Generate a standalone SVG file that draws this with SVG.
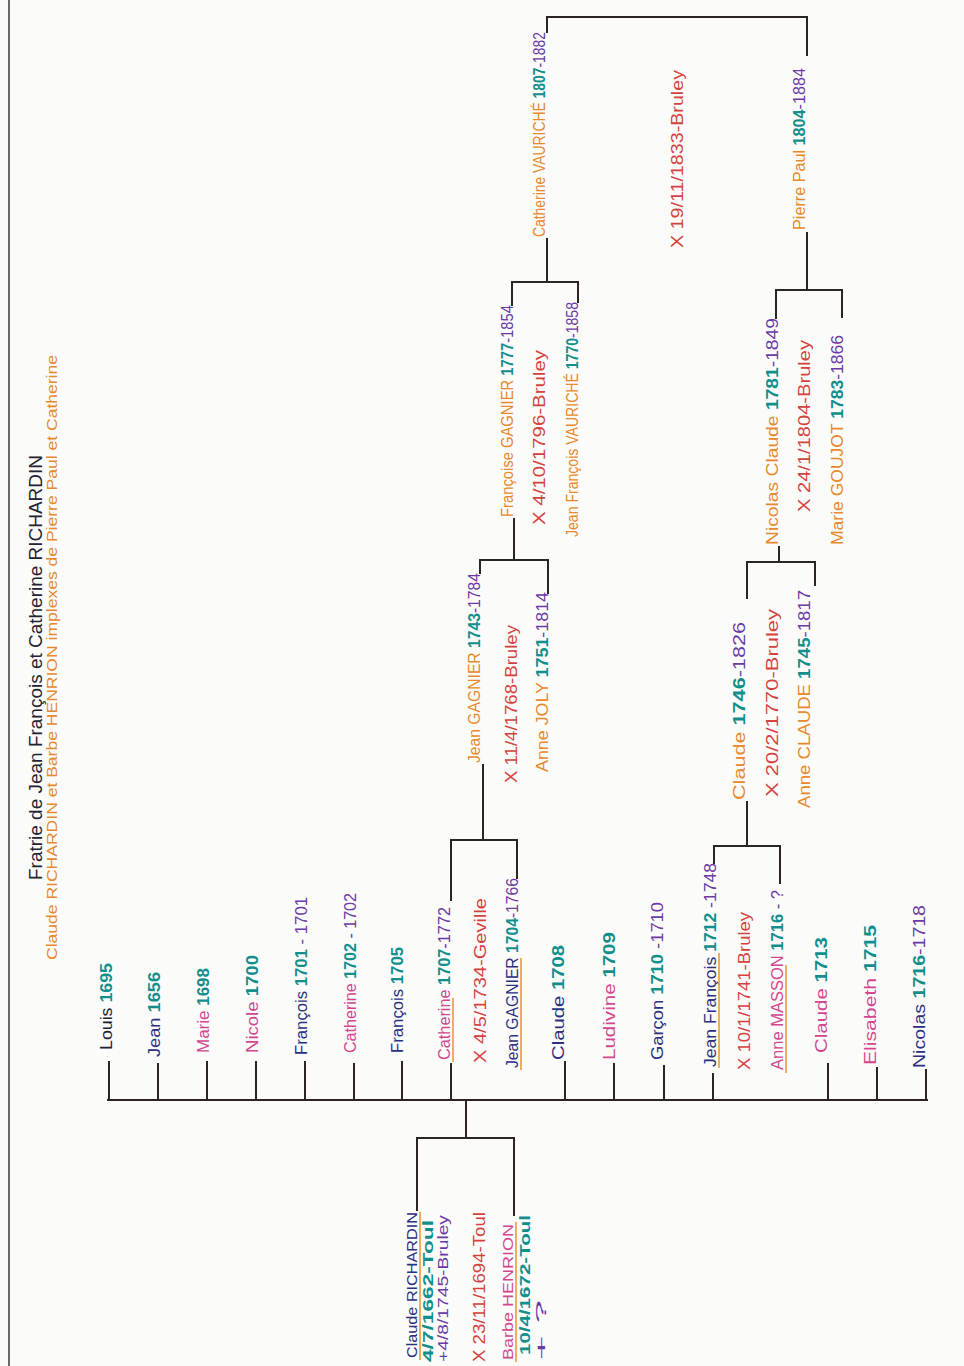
<svg xmlns="http://www.w3.org/2000/svg" width="964" height="1366" viewBox="0 0 964 1366">
<style>
text{font-family:"Liberation Sans Narrow","Liberation Sans",Arial,sans-serif;font-size:16px}
.ti{font-size:18px}
.ts{font-size:15px}
.sm{font-size:14px}
.k{fill:#222230}
.n{fill:#2b3180}
.p{fill:#d2478f}
.y{fill:#128f8c;font-weight:bold}
.d{fill:#6b3aa6}
.r{fill:#d4423e}
.o{fill:#e8892c}
.c{fill:none;stroke:#2a2523;stroke-width:2;stroke-linecap:square}
.u{stroke:#eb9a3a;stroke-width:1.6}
</style>
<rect width="964" height="1366" fill="#fbfbf9"/>
<line x1="9" y1="0" x2="9" y2="1366" stroke="#6a6a6a" stroke-width="2"/>

<g id="title">
<text class="ti k" transform="translate(42,880) rotate(-90)" textLength="425" lengthAdjust="spacingAndGlyphs">Fratrie de Jean François et Catherine RICHARDIN</text>
<text class="ts o" transform="translate(57,960) rotate(-90)" textLength="605" lengthAdjust="spacingAndGlyphs">Claude RICHARDIN et Barbe HENRION implexes de Pierre Paul et Catherine</text>
</g>

<g id="connectors">
<path class="c" d="M108,1100 H927"/>
<path class="c" d="M109,1100 V1062 M158,1100 V1064 M207,1100 V1062 M256,1100 V1062 M305,1100 V1062 M354,1100 V1064 M402,1100 V1062 M451,1100 V1064 M565,1100 V1062 M614,1100 V1064 M664,1100 V1066 M713,1100 V1074 M828,1100 V1064 M877,1100 V1068 M926,1100 V1070"/>
<path class="c" d="M466,1100 V1138 M417,1210 V1138 H514 V1215"/>
<path class="c" d="M451,900 V840 H517 V878 M483,840 V765"/>
<path class="c" d="M480,573 V560 H548 V593 M514,560 V519"/>
<path class="c" d="M512,305 V282 H578 V302 M547,282 V239"/>
<path class="c" d="M547,32 V17 H807 V55 M807,233 V290"/>
<path class="c" d="M776,318 V290 H842 V317"/>
<path class="c" d="M747,598 V562 H815 V585 M779,562 V547"/>
<path class="c" d="M714,863 V846 H780 V883 M747,846 V802"/>
</g>

<g id="parent-claude-richardin">
<text class="n sm" transform="translate(417,1358) rotate(-90)" textLength="146" lengthAdjust="spacingAndGlyphs">Claude RICHARDIN</text>
<line class="u" x1="420" y1="1360" x2="420" y2="1212"/>
<text class="y sm" transform="translate(433,1362) rotate(-90)" textLength="142" lengthAdjust="spacingAndGlyphs">4/7/1662-Toul</text>
<text class="d sm" transform="translate(448,1362) rotate(-90)" textLength="147" lengthAdjust="spacingAndGlyphs">+4/8/1745-Bruley</text>
</g>
<g id="marriage-1694">
<text class="r" transform="translate(485,1362) rotate(-90)" textLength="150" lengthAdjust="spacingAndGlyphs">X 23/11/1694-Toul</text>
</g>
<g id="parent-barbe-henrion">
<text class="p sm" transform="translate(513,1360) rotate(-90)" textLength="136" lengthAdjust="spacingAndGlyphs">Barbe HENRION</text>
<line class="u" x1="516" y1="1362" x2="516" y2="1222"/>
<text class="y sm" transform="translate(530,1355) rotate(-90)" textLength="140" lengthAdjust="spacingAndGlyphs">10/4/1672-Toul</text>
<text class="d sm" transform="translate(546,1360) rotate(-90)" textLength="60" lengthAdjust="spacingAndGlyphs">+ ?</text>
</g>

<g id="child-louis">
<text transform="translate(112,1050) rotate(-90)" textLength="87" lengthAdjust="spacingAndGlyphs"><tspan class="k">Louis </tspan><tspan class="y">1695</tspan></text>
</g>
<g id="child-jean">
<text transform="translate(160,1057) rotate(-90)" textLength="85" lengthAdjust="spacingAndGlyphs"><tspan class="n">Jean </tspan><tspan class="y">1656</tspan></text>
</g>
<g id="child-marie">
<text transform="translate(209,1053) rotate(-90)" textLength="85" lengthAdjust="spacingAndGlyphs"><tspan class="p">Marie </tspan><tspan class="y">1698</tspan></text>
</g>
<g id="child-nicole">
<text transform="translate(258,1053) rotate(-90)" textLength="98" lengthAdjust="spacingAndGlyphs"><tspan class="p">Nicole </tspan><tspan class="y">1700</tspan></text>
</g>
<g id="child-francois-1701">
<text transform="translate(307,1055) rotate(-90)" textLength="158" lengthAdjust="spacingAndGlyphs"><tspan class="n">François </tspan><tspan class="y">1701</tspan><tspan class="d"> - 1701</tspan></text>
</g>
<g id="child-catherine-1702">
<text transform="translate(356,1053) rotate(-90)" textLength="160" lengthAdjust="spacingAndGlyphs"><tspan class="p">Catherine </tspan><tspan class="y">1702</tspan><tspan class="d"> - 1702</tspan></text>
</g>
<g id="child-francois-1705">
<text transform="translate(403,1053) rotate(-90)" textLength="106" lengthAdjust="spacingAndGlyphs"><tspan class="n">François </tspan><tspan class="y">1705</tspan></text>
</g>
<g id="child-catherine-1707">
<text transform="translate(450,1060) rotate(-90)" textLength="153" lengthAdjust="spacingAndGlyphs"><tspan class="p">Catherine </tspan><tspan class="y">1707</tspan><tspan class="d">-1772</tspan></text>
<line class="u" x1="453" y1="1062" x2="453" y2="998"/>
</g>
<g id="marriage-1734">
<text class="r" transform="translate(486,1063) rotate(-90)" textLength="165" lengthAdjust="spacingAndGlyphs">X 4/5/1734-Geville</text>
</g>
<g id="spouse-jean-gagnier-1704">
<text transform="translate(518,1068) rotate(-90)" textLength="190" lengthAdjust="spacingAndGlyphs"><tspan class="n">Jean GAGNIER </tspan><tspan class="y">1704</tspan><tspan class="d">-1766</tspan></text>
<line class="u" x1="521" y1="1070" x2="521" y2="958"/>
</g>
<g id="child-claude-1708">
<text transform="translate(564,1060) rotate(-90)" textLength="115" lengthAdjust="spacingAndGlyphs"><tspan class="n">Claude </tspan><tspan class="y">1708</tspan></text>
</g>
<g id="child-ludivine">
<text transform="translate(615,1060) rotate(-90)" textLength="128" lengthAdjust="spacingAndGlyphs"><tspan class="p">Ludivine </tspan><tspan class="y">1709</tspan></text>
</g>
<g id="child-garcon">
<text transform="translate(663,1060) rotate(-90)" textLength="158" lengthAdjust="spacingAndGlyphs"><tspan class="n">Garçon </tspan><tspan class="y">1710</tspan><tspan class="d"> -1710</tspan></text>
</g>
<g id="child-jean-francois">
<text transform="translate(716,1067) rotate(-90)" textLength="204" lengthAdjust="spacingAndGlyphs"><tspan class="n">Jean François </tspan><tspan class="y">1712</tspan><tspan class="d"> -1748</tspan></text>
<line class="u" x1="719" y1="1068" x2="719" y2="953"/>
</g>
<g id="marriage-1741">
<text class="r" transform="translate(750,1070) rotate(-90)" textLength="158" lengthAdjust="spacingAndGlyphs">X 10/1/1741-Bruley</text>
</g>
<g id="spouse-anne-masson">
<text transform="translate(783,1070) rotate(-90)" textLength="180" lengthAdjust="spacingAndGlyphs"><tspan class="p">Anne MASSON </tspan><tspan class="y">1716</tspan><tspan class="d"> - ?</tspan></text>
<line class="u" x1="786" y1="1073" x2="786" y2="965"/>
</g>
<g id="child-claude-1713">
<text transform="translate(827,1053) rotate(-90)" textLength="116" lengthAdjust="spacingAndGlyphs"><tspan class="p">Claude </tspan><tspan class="y">1713</tspan></text>
</g>
<g id="child-elisabeth">
<text transform="translate(876,1065) rotate(-90)" textLength="140" lengthAdjust="spacingAndGlyphs"><tspan class="p">Elisabeth </tspan><tspan class="y">1715</tspan></text>
</g>
<g id="child-nicolas">
<text transform="translate(925,1068) rotate(-90)" textLength="163" lengthAdjust="spacingAndGlyphs"><tspan class="n">Nicolas </tspan><tspan class="y">1716</tspan><tspan class="d">-1718</tspan></text>
</g>

<g id="jean-gagnier-1743">
<text transform="translate(480,763) rotate(-90)" textLength="190" lengthAdjust="spacingAndGlyphs"><tspan class="o">Jean GAGNIER </tspan><tspan class="y">1743</tspan><tspan class="d">-1784</tspan></text>
</g>
<g id="marriage-1768">
<text class="r" transform="translate(517,783) rotate(-90)" textLength="158" lengthAdjust="spacingAndGlyphs">X 11/4/1768-Bruley</text>
</g>
<g id="anne-joly">
<text transform="translate(548,772) rotate(-90)" textLength="180" lengthAdjust="spacingAndGlyphs"><tspan class="o">Anne JOLY </tspan><tspan class="y">1751</tspan><tspan class="d">-1814</tspan></text>
</g>

<g id="francoise-gagnier">
<text transform="translate(513,517) rotate(-90)" textLength="212" lengthAdjust="spacingAndGlyphs"><tspan class="o">Françoise GAGNIER </tspan><tspan class="y">1777</tspan><tspan class="d">-1854</tspan></text>
</g>
<g id="marriage-1796">
<text class="r" transform="translate(545,525) rotate(-90)" textLength="175" lengthAdjust="spacingAndGlyphs">X 4/10/1796-Bruley</text>
</g>
<g id="jean-francois-vauriche">
<text transform="translate(578,537) rotate(-90)" textLength="235" lengthAdjust="spacingAndGlyphs"><tspan class="o">Jean François VAURICHÉ </tspan><tspan class="y">1770</tspan><tspan class="d">-1858</tspan></text>
</g>

<g id="catherine-vauriche">
<text transform="translate(545,237) rotate(-90)" textLength="205" lengthAdjust="spacingAndGlyphs"><tspan class="o">Catherine VAURICHÉ </tspan><tspan class="y">1807</tspan><tspan class="d">-1882</tspan></text>
</g>
<g id="marriage-1833">
<text class="r" transform="translate(683,248) rotate(-90)" textLength="178" lengthAdjust="spacingAndGlyphs">X 19/11/1833-Bruley</text>
</g>
<g id="pierre-paul">
<text transform="translate(805,230) rotate(-90)" textLength="162" lengthAdjust="spacingAndGlyphs"><tspan class="o">Pierre Paul </tspan><tspan class="y">1804</tspan><tspan class="d">-1884</tspan></text>
</g>

<g id="nicolas-claude">
<text transform="translate(778,545) rotate(-90)" textLength="227" lengthAdjust="spacingAndGlyphs"><tspan class="o">Nicolas Claude </tspan><tspan class="y">1781</tspan><tspan class="d">-1849</tspan></text>
</g>
<g id="marriage-1804">
<text class="r" transform="translate(810,512) rotate(-90)" textLength="172" lengthAdjust="spacingAndGlyphs">X 24/1/1804-Bruley</text>
</g>
<g id="marie-goujot">
<text transform="translate(843,545) rotate(-90)" textLength="210" lengthAdjust="spacingAndGlyphs"><tspan class="o">Marie GOUJOT </tspan><tspan class="y">1783</tspan><tspan class="d">-1866</tspan></text>
</g>

<g id="claude-1746">
<text transform="translate(745,800) rotate(-90)" textLength="178" lengthAdjust="spacingAndGlyphs"><tspan class="o">Claude </tspan><tspan class="y">1746</tspan><tspan class="d">-1826</tspan></text>
</g>
<g id="marriage-1770">
<text class="r" transform="translate(778,797) rotate(-90)" textLength="188" lengthAdjust="spacingAndGlyphs">X 20/2/1770-Bruley</text>
</g>
<g id="anne-claude">
<text transform="translate(810,808) rotate(-90)" textLength="218" lengthAdjust="spacingAndGlyphs"><tspan class="o">Anne CLAUDE </tspan><tspan class="y">1745</tspan><tspan class="d">-1817</tspan></text>
</g>
</svg>
